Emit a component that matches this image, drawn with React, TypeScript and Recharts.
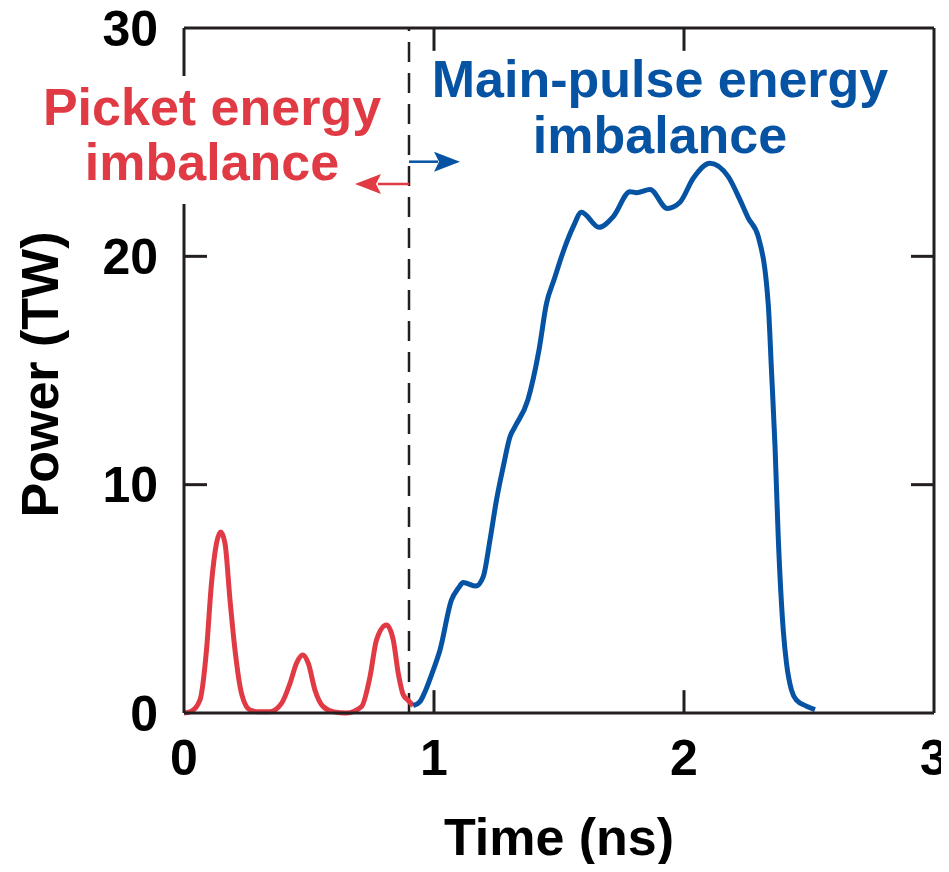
import { LineChart, Line, XAxis, YAxis, ReferenceLine } from 'recharts';

// picket portion (red), time in ns / power in TW
const picketTime = [
  0, 0.03, 0.064, 0.09, 0.11, 0.13, 0.147, 0.164, 0.184, 0.204, 0.23, 0.264, 0.3, 0.344, 0.39, 0.424,
  0.45, 0.475, 0.497, 0.524, 0.557, 0.6, 0.65, 0.71, 0.744, 0.77, 0.81, 0.837, 0.857, 0.877, 0.897, 0.917,
];
const picketPower = [
  0, 0.08, 0.57, 2.76, 5.68, 7.43, 7.93, 7.43, 4.95, 2.76, 0.86, 0.13, 0.05, 0.06, 0.42, 1.3,
  2.18, 2.54, 2.18, 1.0, 0.28, 0.05, 0.0, 0.28, 1.59, 3.2, 3.85, 3.2, 1.74, 0.8, 0.55, 0.32,
];

// main pulse (blue)
const mainTime = [
  0.917, 0.944, 0.964, 0.997, 1.024, 1.07, 1.097, 1.117, 1.168, 1.197, 1.224, 1.25, 1.277, 1.304, 1.324,
  1.375, 1.42, 1.45, 1.48, 1.52, 1.557, 1.59, 1.66, 1.717, 1.784, 1.81, 1.864, 1.933, 1.984, 2.037, 2.104,
  2.177, 2.224, 2.257, 2.297, 2.337, 2.35, 2.364, 2.377, 2.397, 2.41, 2.43, 2.45, 2.49, 2.524,
];
const mainPower = [
  0.32, 0.5, 0.93, 1.88, 2.76, 4.95, 5.46, 5.71, 5.56, 5.97, 7.58, 9.33, 10.79, 12.1, 12.54,
  13.7, 15.9, 17.94, 18.97, 20.3, 21.3, 21.93, 21.27, 21.74, 22.83, 22.79, 22.93, 22.1, 22.37, 23.42, 24.08,
  23.49, 22.47, 21.67, 20.86, 17.9, 14.98, 11.7, 7.69, 3.63, 2.18, 1.0, 0.56, 0.3, 0.15,
];

const xTicks = [0, 1, 2, 3];
const yTicks = [0, 10, 20, 30];
const innerXTicks = [1, 2];
const innerYTicks = [10, 20];
const splitTime = 0.9;

const picket = picketTime.map((t, i) => ({ t, p: picketPower[i] }));
const main = mainTime.map((t, i) => ({ t, p: mainPower[i] }));

const FONT = '"Liberation Sans", Arial, Helvetica, sans-serif';
const RED = '#e03a44';
const BLUE = '#0653a3';
const INK = '#231f20';

// full window; the wrapper cancels the body margin
const W = 949;
const H = 872;

export default function App() {
  // inward tick lengths in data units (about 23px)
  const xTickLen = 0.092;
  const yTickLen = 1.0;

  return (
    <div style={{ position: 'relative', width: W, height: H, margin: -8 }}>
      <style>{'.recharts-surface { overflow: visible; }'}</style>
      <LineChart width={W} height={H} margin={{ top: 28, right: 15, bottom: 0, left: 0 }}>
        <XAxis
          dataKey="t"
          type="number"
          domain={[0, 3]}
          ticks={xTicks}
          interval={0}
          tickLine={false}
          tickSize={0}
          tickMargin={26}
          height={159}
          axisLine={{ stroke: INK, strokeWidth: 3 }}
          tick={{ fontSize: 50, fontWeight: 700, fill: '#000', fontFamily: FONT }}
          label={{
            value: 'Time (ns)',
            position: 'insideBottom',
            offset: 17,
            style: { fontSize: 52, fontWeight: 700, fill: '#000', fontFamily: FONT },
          }}
        />
        <YAxis
          type="number"
          domain={[0, 30]}
          ticks={yTicks}
          interval={0}
          tickLine={false}
          tickSize={0}
          tickMargin={26}
          width={184}
          axisLine={{ stroke: INK, strokeWidth: 3 }}
          tick={{ fontSize: 50, fontWeight: 700, fill: '#000', fontFamily: FONT }}
          label={(props: any) => {
            const vb = props.viewBox;
            const cx = vb.x + 58;
            const cy = vb.y + vb.height / 2 + 4;
            return (
              <text
                x={cx}
                y={cy}
                transform={`rotate(-90, ${cx}, ${cy})`}
                textAnchor="middle"
                fontSize={52}
                fontWeight={700}
                fill="#000"
                fontFamily={FONT}
              >
                Power (TW)
              </text>
            );
          }}
        />

        {/* frame */}
        <ReferenceLine y={30} stroke={INK} strokeWidth={3} />
        <ReferenceLine x={3} stroke={INK} strokeWidth={3} />

        {/* inward ticks */}
        {innerXTicks.map((v) => (
          <ReferenceLine key={`xb${v}`} segment={[{ x: v, y: 0 }, { x: v, y: yTickLen }]} stroke={INK} strokeWidth={3} />
        ))}
        {innerXTicks.map((v) => (
          <ReferenceLine key={`xt${v}`} segment={[{ x: v, y: 30 - yTickLen }, { x: v, y: 30 }]} stroke={INK} strokeWidth={3} />
        ))}
        {innerYTicks.map((v) => (
          <ReferenceLine key={`yl${v}`} segment={[{ x: 0, y: v }, { x: xTickLen, y: v }]} stroke={INK} strokeWidth={3} />
        ))}
        {innerYTicks.map((v) => (
          <ReferenceLine key={`yr${v}`} segment={[{ x: 3 - xTickLen, y: v }, { x: 3, y: v }]} stroke={INK} strokeWidth={3} />
        ))}

        <ReferenceLine x={splitTime} stroke={INK} strokeWidth={2.5} strokeDasharray="20 11" />

        <Line
          data={picket}
          dataKey="p"
          type="monotone"
          stroke={RED}
          strokeWidth={5}
          dot={false}
          activeDot={false}
          isAnimationActive={false}
        />
        <Line
          data={main}
          dataKey="p"
          type="monotone"
          stroke={BLUE}
          strokeWidth={5}
          dot={false}
          activeDot={false}
          isAnimationActive={false}
        />
      </LineChart>

      {/* annotations */}
      <svg
        width={W}
        height={H}
        style={{ position: 'absolute', left: 0, top: 0, pointerEvents: 'none' }}
      >
        <rect x={35} y={76} width={355} height={128} fill="#fff" />
        <text textAnchor="middle" fontSize={52} fontWeight={700} fill={RED} fontFamily={FONT}>
          <tspan x={212} y={125}>Picket energy</tspan>
          <tspan x={212} y={180}>imbalance</tspan>
        </text>
        <text textAnchor="middle" fontSize={52} fontWeight={700} fill={BLUE} fontFamily={FONT}>
          <tspan x={660} y={97}>Main-pulse energy</tspan>
          <tspan x={660} y={153}>imbalance</tspan>
        </text>

        {/* arrows leaving the split line */}
        <line x1={409} y1={161.7} x2={438} y2={161.7} stroke={BLUE} strokeWidth={2.5} />
        <polygon points="460,161.7 434,151.7 439,161.7 434,171.7" fill={BLUE} />
        <line x1={409} y1={184} x2={378} y2={184} stroke={RED} strokeWidth={2.5} />
        <polygon points="355,184 381,174 376,184 381,194" fill={RED} />
      </svg>
    </div>
  );
}
